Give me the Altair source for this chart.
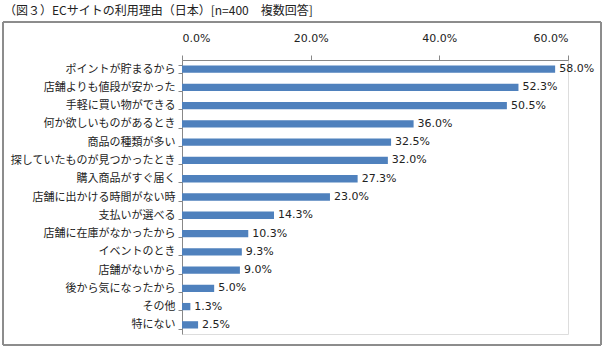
import altair as alt
import pandas as pd

categories = [
    "ポイントが貯まるから", "店舗よりも値段が安かった", "手軽に買い物ができる",
    "何か欲しいものがあるとき", "商品の種類が多い", "探していたものが見つかったとき",
    "購入商品がすぐ届く", "店舗に出かける時間がない時", "支払いが選べる",
    "店舗に在庫がなかったから", "イベントのとき", "店舗がないから",
    "後から気になったから", "その他", "特にない",
]
values = [58.0, 52.3, 50.5, 36.0, 32.5, 32.0, 27.3, 23.0, 14.3, 10.3, 9.3, 9.0, 5.0, 1.3, 2.5]
x_ticks = [0, 0.2, 0.4, 0.6]

df = pd.DataFrame({"reason": categories, "share": [v / 100 for v in values]})
df["label"] = [f"{v:.1f}%" for v in values]

JP = "Noto Sans CJK JP"
NUM = "DejaVu Sans"

y_enc = alt.Y("reason:N", sort=categories,
              scale=alt.Scale(paddingInner=0.6, paddingOuter=0.3),
              axis=alt.Axis(title=None, orient="left", labelFont=JP, labelFontSize=11,
                            labelColor="#222222", domainColor="#888888", tickColor="#888888",
                            tickBand="extent", tickSize=4, labelPadding=3, grid=False))

x_enc = alt.X("share:Q", scale=alt.Scale(domain=[0, 0.6], nice=False),
              axis=alt.Axis(title=None, orient="top", format=".1%", values=x_ticks,
                            labelFont=NUM, labelFontSize=11, labelColor="#222222",
                            domainColor="#888888", tickColor="#888888", tickSize=5,
                            labelPadding=12, grid=False))

bars = alt.Chart(df).mark_bar(color="#4F81BD").encode(x=x_enc, y=y_enc)
text = alt.Chart(df).mark_text(align="left", dx=4, font=NUM, fontSize=11, color="#222222").encode(
    x="share:Q", y=alt.Y("reason:N", sort=categories), text="label:N")

frame = alt.Chart(df).mark_rect(fill=None, stroke="#8c8c8c", strokeWidth=1).encode(
    x=alt.value(-179), x2=alt.value(419), y=alt.value(-38), y2=alt.value(285))

chart = alt.layer(frame, bars, text).properties(
    width=386, height=274,
    title=alt.TitleParams("（図３）ECサイトの利用理由（日本）[n=400　複数回答]", anchor="start",
                          frame="group", font=JP, fontSize=12, fontWeight="normal",
                          color="#222222", dx=-178, offset=4),
    autosize=alt.AutoSizeParams(type="none"),
    padding={"left": 182, "top": 60, "right": 43, "bottom": 19},
).configure_view(stroke=None).configure(background="white")

chart.save("out.html", embed_options={"renderer": "svg", "actions": False})
